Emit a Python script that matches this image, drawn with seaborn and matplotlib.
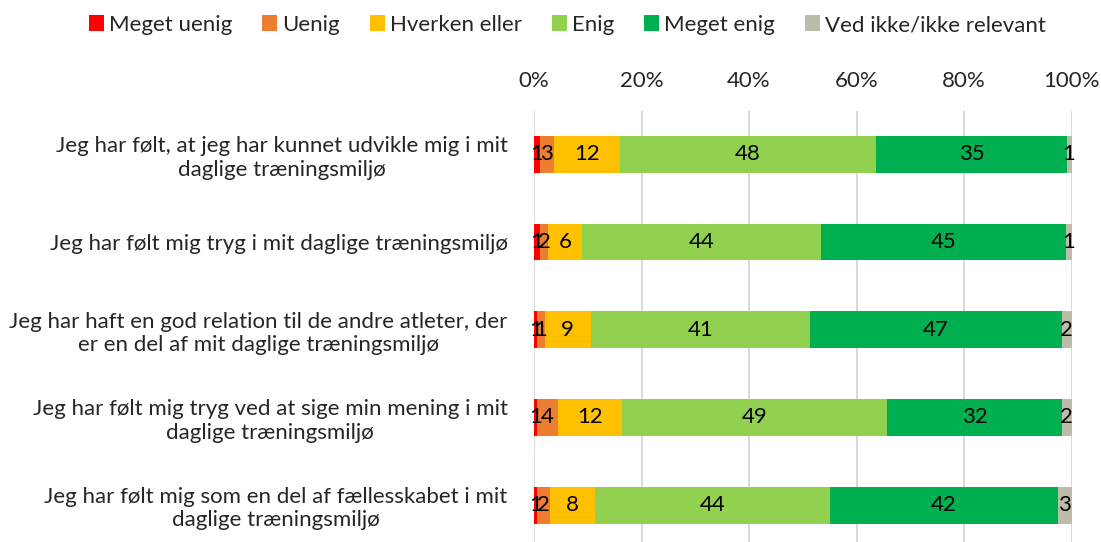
import numpy as np
import pandas as pd
import matplotlib
matplotlib.use("Agg")
import matplotlib.pyplot as plt
import seaborn as sns
from matplotlib.patches import Patch

categories = [
    "Jeg har følt, at jeg har kunnet udvikle mig i mit\ndaglige træningsmiljø",
    "Jeg har følt mig tryg i mit daglige træningsmiljø",
    "Jeg har haft en god relation til de andre atleter, der\ner en del af mit daglige træningsmiljø",
    "Jeg har følt mig tryg ved at sige min mening i mit\ndaglige træningsmiljø",
    "Jeg har følt mig som en del af fællesskabet i mit\ndaglige træningsmiljø",
]
series_names = ["Meget uenig", "Uenig", "Hverken eller", "Enig", "Meget enig", "Ved ikke/ikke relevant"]
meget_uenig = [1.1, 1.05, 0.6, 0.5, 0.6]
uenig = [2.6, 1.6, 1.4, 3.9, 2.4]
hverken = [12.3, 6.3, 8.6, 11.9, 8.4]
enig = [47.7, 44.3, 40.9, 49.3, 43.7]
meget_enig = [35.4, 45.4, 47.0, 32.4, 42.4]
ved_ikke = [0.9, 1.0, 1.8, 1.8, 2.6]
tick_values = [0, 20, 40, 60, 80, 100]
tick_labels = ["0%", "20%", "40%", "60%", "80%", "100%"]

colors = ["#FF0000", "#ED7D31", "#FFC000", "#92D050", "#00B050", "#BCBCAB"]

sns.set_theme(style="white")
plt.rcParams['font.family'] = ['Lato', 'DejaVu Sans']

series = [meget_uenig, uenig, hverken, enig, meget_enig, ved_ikke]
raw = np.array(series, dtype=float)
share = raw / raw.sum(axis=0) * 100
cum = np.cumsum(share, axis=0)

fig = plt.figure(figsize=(11.01, 5.42), dpi=100)
ax = fig.add_axes([534 / 1101, 0, (1071.5 - 534) / 1101, (542 - 110.5) / 542])

for k in range(len(series) - 1, -1, -1):
    df = pd.DataFrame({"cat": categories, "val": cum[k]})
    sns.barplot(data=df, x="val", y="cat", orient="h", color=colors[k],
                width=0.42, saturation=1, ax=ax, linewidth=0, zorder=2)

fs = 16
for k in range(len(series)):
    for i in range(len(categories)):
        v = raw[k, i]
        ax.text(cum[k, i] - share[k, i] / 2, i, f"{int(v + 0.5)}",
                ha="center", va="center", fontsize=fs, color="black", zorder=5)

ax.set_xlim(0, 100)
ax.set_ylim(4.42, -0.5)
ax.set_xticks(tick_values)
ax.set_xticklabels(tick_labels, fontsize=fs)
ax.xaxis.tick_top()
ax.set_xlabel("")
ax.set_ylabel("")
ax.tick_params(axis="x", length=0, pad=14)
ax.tick_params(axis="y", length=0, pad=19, labelsize=fs)
for t in ax.get_yticklabels():
    t.set_multialignment("center")
ax.grid(axis="x", color="#D9D9D9", linewidth=1.4)
ax.grid(axis="y", visible=False)
ax.set_axisbelow(True)
for s in ax.spines.values():
    s.set_visible(False)

handles = [Patch(facecolor=c, edgecolor="none") for c in colors]
fig.legend(handles, series_names, loc="center", bbox_to_anchor=(567 / 1101, 1 - 25 / 542),
           ncol=6, frameon=False, handlelength=0.7, handleheight=0.7,
           handletextpad=0.2, columnspacing=1.35, fontsize=fs)

fig.savefig("out.png", dpi=100)
